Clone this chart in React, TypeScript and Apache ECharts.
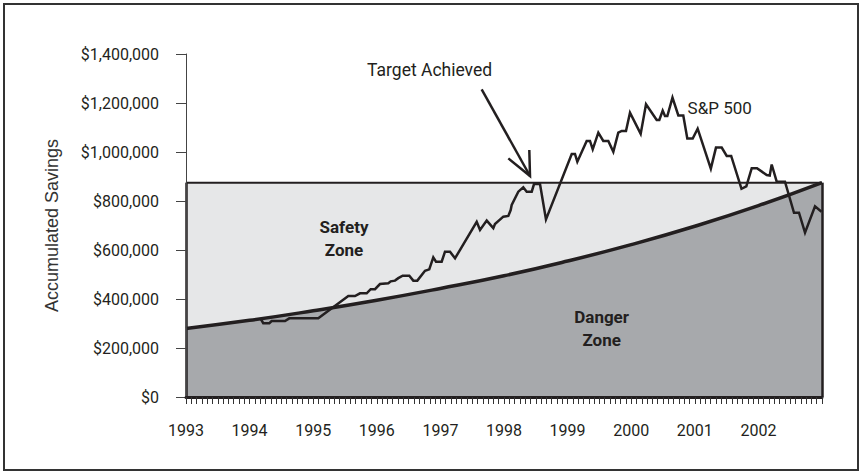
import React, { useEffect, useRef } from "react";
import * as echarts from "echarts";

// ---- data ----
const yearTicks = [1993, 1994, 1995, 1996, 1997, 1998, 1999, 2000, 2001, 2002, 2003];
const targetYears = [1993, 2003];
const targetValues = [875000, 875000];
const curveYears = [1993, 1994, 1995, 1996, 1997, 1998, 1999, 2000, 2001, 2002, 2003];
const curveValues = [280000, 313000, 352000, 395000, 443000, 495000, 555000, 622000, 697000, 781000, 875000];
const spYears = [
  1994.179, 1994.215, 1994.31, 1994.347, 1994.557, 1994.624, 1995.08, 1995.552, 1995.657, 1995.736,
  1995.841, 1995.904, 1995.972, 1996.05, 1996.181, 1996.219, 1996.286, 1996.338, 1996.407, 1996.511,
  1996.574, 1996.637, 1996.758, 1996.825, 1996.888, 1996.931, 1997.02, 1997.072, 1997.151, 1997.23,
  1997.571, 1997.623, 1997.728, 1997.832, 1997.858, 1997.989, 1998.068, 1998.105, 1998.121, 1998.225,
  1998.303, 1998.357, 1998.436, 1998.472, 1998.566, 1998.66, 1999.065, 1999.116, 1999.153, 1999.3,
  1999.352, 1999.395, 1999.483, 1999.561, 1999.64, 1999.719, 1999.797, 1999.851, 1999.918, 1999.981,
  2000.149, 2000.233, 2000.401, 2000.442, 2000.495, 2000.531, 2000.568, 2000.649, 2000.741, 2000.819,
  2000.882, 2000.967, 2001.045, 2001.252, 2001.333, 2001.423, 2001.502, 2001.572, 2001.734, 2001.81,
  2001.895, 2001.978, 2002.131, 2002.178, 2002.209, 2002.288, 2002.418, 2002.56, 2002.638, 2002.733,
  2002.89, 2002.992,
];
const spValues = [
  317000, 301000, 301000, 310000, 310000, 321000, 321000, 412000, 412000, 423000,
  423000, 440000, 440000, 461000, 464000, 472000, 475000, 485000, 495000, 495000,
  475000, 475000, 515000, 521000, 570000, 552000, 552000, 593000, 593000, 566000,
  715000, 682000, 720000, 689000, 706000, 736000, 739000, 763000, 784000, 838000,
  856000, 838000, 838000, 869000, 869000, 725000, 992000, 992000, 960000, 1045000,
  1045000, 1011000, 1079000, 1045000, 1045000, 1001000, 1079000, 1086000, 1086000, 1160000,
  1074000, 1195000, 1131000, 1131000, 1169000, 1147000, 1147000, 1222000, 1149000, 1149000,
  1055000, 1055000, 1095000, 932000, 1018000, 1018000, 984000, 984000, 850000, 860000,
  934000, 934000, 906000, 904000, 949000, 879000, 879000, 752000, 752000, 671000,
  778000, 756000,
];

// annotation anchors in data coordinates [year, value]
const arrowTail = [1997.649, 1256000];
const arrowTip = [1998.409, 902000];
const arrowArmLeft = [1998.068, 974000];
const arrowArmRight = [1998.398, 1008000];
const targetLabelPos = [1996.83, 1335000];
const spLabelPos = [2000.887, 1180000];
const safetyLabelPos = [1995.484, 647000];
const dangerLabelPos = [1999.535, 280000];

const FONT = "Roboto, 'Liberation Sans', Arial, sans-serif";

export default function App() {
  const ref = useRef<HTMLDivElement>(null);
  useEffect(() => {
    document.body.style.margin = "0";
    const chart = echarts.init(ref.current!, null, { renderer: "svg" });
    const spData = spYears.map((x, i) => [x, spValues[i]]);
    chart.setOption({
      animation: false,
      backgroundColor: "#ffffff",
      grid: { left: 186, right: 42, top: 54, bottom: 76 },
      xAxis: {
        type: "value",
        min: yearTicks[0],
        max: yearTicks[yearTicks.length - 1],
        interval: 1,
        z: 6,
        splitLine: { show: false },
        axisLine: { show: true, lineStyle: { color: "#231f20", width: 3 } },
        axisTick: { show: true, length: 7, lineStyle: { color: "#333", width: 1 } },
        minorTick: { show: true, splitNumber: 12, length: 7, lineStyle: { color: "#333", width: 1 } },
        axisLabel: {
          margin: 25,
          fontFamily: FONT,
          fontSize: 16,
          color: "#231f20",
          showMaxLabel: false,
          formatter: (v: number) => (v >= 2003 ? "" : String(v)),
        },
      },
      yAxis: {
        type: "value",
        min: 0,
        max: 1400000,
        interval: 200000,
        z: 5,
        name: "Accumulated Savings",
        nameLocation: "middle",
        nameRotate: 90,
        nameGap: 125,
        nameTextStyle: { fontFamily: "'Liberation Sans', Arial, sans-serif", fontSize: 18, color: "#333" },
        splitLine: { show: false },
        axisLine: { show: true, lineStyle: { color: "#444", width: 1 } },
        axisTick: { show: true, length: 10, lineStyle: { color: "#444", width: 1 } },
        axisLabel: {
          margin: 27,
          fontFamily: FONT,
          fontSize: 16,
          color: "#231f20",
          formatter: (v: number) => "$" + v.toLocaleString("en-US"),
        },
      },
      series: [
        {
          name: "Safety Zone",
          type: "line",
          z: 1,
          data: targetYears.map((x, i) => [x, targetValues[i]]),
          symbol: "none",
          lineStyle: { color: "#231f20", width: 2 },
          areaStyle: { color: "#e6e7e8", opacity: 1 },
          markLine: {
            silent: true,
            symbol: "none",
            label: { show: false },
            lineStyle: { color: "#231f20", width: 2.5, type: "solid" },
            data: [
              [{ coord: [targetYears[0], 0] }, { coord: [targetYears[0], targetValues[0]] }],
              [{ coord: [targetYears[1], 0] }, { coord: [targetYears[1], targetValues[1]] }],
            ],
          },
        },
        {
          name: "Danger Zone",
          type: "line",
          z: 2,
          smooth: true,
          data: curveYears.map((x, i) => [x, curveValues[i]]),
          symbol: "none",
          lineStyle: { color: "#231f20", width: 3.5 },
          areaStyle: { color: "#a7a9ac", opacity: 1 },
        },
        {
          name: "S&P 500",
          type: "line",
          z: 3,
          data: spData,
          symbol: "none",
          lineStyle: { color: "#231f20", width: 2.5, join: "miter" },
        },
      ],
    });

    const px = (p: number[]) => chart.convertToPixel({ gridIndex: 0 }, p) as number[];
    const tail = px(arrowTail);
    const tip = px(arrowTip);
    const armL = px(arrowArmLeft);
    const armR = px(arrowArmRight);
    const tgt = px(targetLabelPos);
    const sp = px(spLabelPos);
    const safe = px(safetyLabelPos);
    const danger = px(dangerLabelPos);
    const textBase = { fontFamily: FONT, fill: "#231f20" };

    chart.setOption({
      graphic: [
        {
          type: "rect",
          z: 100,
          silent: true,
          shape: { x: 4, y: 4, width: 854, height: 466 },
          style: { fill: "none", stroke: "#333", lineWidth: 2 },
        },
        {
          type: "line",
          z: 100,
          shape: { x1: tail[0], y1: tail[1], x2: tip[0], y2: tip[1] },
          style: { stroke: "#231f20", lineWidth: 2.5 },
        },
        {
          type: "polyline",
          z: 100,
          shape: { points: [armL, tip, armR] },
          style: { stroke: "#231f20", lineWidth: 2.5, fill: "none" },
        },
        {
          type: "text",
          z: 100,
          x: tgt[0],
          y: tgt[1],
          style: { ...textBase, text: "Target Achieved", fontSize: 17.5, align: "center", verticalAlign: "middle" },
        },
        {
          type: "text",
          z: 100,
          x: sp[0],
          y: sp[1],
          style: { ...textBase, text: "S&P 500", fontSize: 17, align: "left", verticalAlign: "middle" },
        },
        {
          type: "text",
          z: 100,
          x: safe[0],
          y: safe[1],
          style: {
            ...textBase,
            text: "Safety\nZone",
            fontSize: 17,
            fontWeight: "bold",
            lineHeight: 23,
            align: "center",
            verticalAlign: "middle",
          },
        },
        {
          type: "text",
          z: 100,
          x: danger[0],
          y: danger[1],
          style: {
            ...textBase,
            text: "Danger\nZone",
            fontSize: 17,
            fontWeight: "bold",
            lineHeight: 23,
            align: "center",
            verticalAlign: "middle",
          },
        },
      ],
    });
    return () => chart.dispose();
  }, []);
  return <div ref={ref} style={{ position: "fixed", left: 0, top: 0, width: 864, height: 473 }} />;
}
